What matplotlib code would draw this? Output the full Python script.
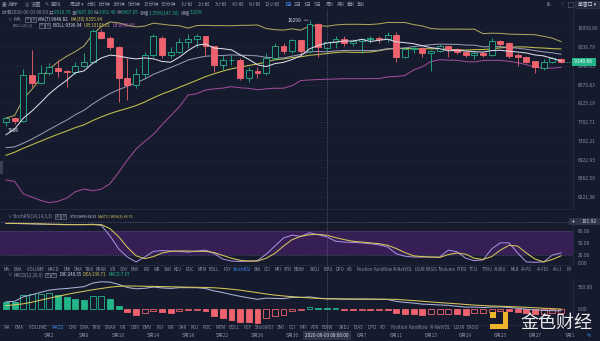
import numpy as np
import pandas as pd
import matplotlib
matplotlib.use('Agg')
import matplotlib.pyplot as plt
from matplotlib.patches import Rectangle
from matplotlib.lines import Line2D
from matplotlib.ticker import FixedLocator, FixedFormatter, NullLocator
import matplotlib.transforms as mtransforms

plt.rcParams['font.family'] = ['Noto Sans CJK SC', 'DejaVu Sans']
plt.rcParams['axes.unicode_minus'] = False

# ---------------- data ----------------
dates = pd.date_range('2020-04-27', '2020-06-30', freq='D')

opens = [7699, 7787, 7730, 8798, 8600, 8848, 8990, 8899, 8873, 9026,
         9129, 9969, 9801, 9526, 8723, 8551, 8823, 9312, 9801, 9312,
         9392, 9663, 9773, 9829, 9553, 9051, 9181, 9194, 8723, 8899,
         8848, 9233, 9580, 9419, 9718, 9419, 10199, 9519.76, 9667, 9773,
         9635, 9690, 9746, 9801, 9746, 9885, 9259, 9472, 9499, 9365,
         9419, 9553, 9472, 9392, 9312, 9365, 9312, 9690, 9635, 9312,
         9259, 9155, 8974, 9129, 9207]
highs = [7809, 7809, 8950, 9445, 9051, 9103, 9181, 8924, 9129, 9365,
         10055, 10055, 9857, 9580, 9233, 8974, 9392, 9913, 9829, 9526,
         9801, 9913, 9913, 9850, 9580, 9312, 9312, 9233, 9000, 9000,
         9365, 9635, 9635, 9773, 9740, 10299, 10228, 9687.00, 9857, 9829,
         9773, 9801, 9857, 9857, 9969, 9969, 9526, 9553, 9526, 9470,
         9610, 9580, 9500, 9420, 9392, 9400, 9801, 9718, 9663, 9365,
         9286, 9170, 9207, 9259, 9233]
lows = [7608, 7655, 7699, 8502, 8575, 8798, 8748, 8502, 8823, 9000,
        9103, 9773, 9445, 8148, 8194, 8479, 8723, 9259, 9233, 9233,
        9365, 9499, 9526, 9312, 8873, 8924, 9051, 8673, 8625, 8723,
        8820, 9200, 9339, 9365, 9339, 9365, 9270, 9391.49, 9499, 9580,
        9553, 9365, 9635, 9635, 9663, 9129, 9233, 9365, 9259, 8920,
        9392, 9259, 9340, 9280, 9207, 9280, 9286, 9580, 9233, 9026,
        9103, 8848, 8924, 9103, 9103]
closes = [7787, 7721, 8798, 8600, 8848, 9000, 8899, 8873, 9026, 9129,
          9997, 9801, 9526, 8723, 8551, 8823, 9312, 9829, 9312, 9392,
          9663, 9773, 9829, 9553, 9051, 9181, 9194, 8723, 8924, 8848,
          9233, 9580, 9419, 9718, 9419, 10199, 9526, 9667.05, 9773, 9635,
          9690, 9746, 9801, 9746, 9885, 9259, 9472, 9499, 9365, 9419,
          9553, 9472, 9392, 9312, 9365, 9312, 9690, 9608, 9286, 9259,
          9129, 9000, 9129, 9233, 9140.66]
# daily closes 2020-03-29 .. 2020-04-26 (warm-up for MA / BOLL)
history_closes = [5881, 6394, 6410, 6642, 6794, 6734, 6857, 6772, 7330, 7200,
                  7370, 7296, 6865, 6887, 6904, 6838, 6868, 6621, 7116, 7097,
                  7257, 7189, 6882, 6880, 7118, 7482, 7505, 7539, 7697]

stoch_k = [98, 98, 97, 97, 96, 96, 95, 95, 95, 95,
           96, 93, 67, 35, 15, 3, 15, 29, 31, 30,
           29, 27, 30, 32, 24, 10, 5, 4, 5, 6,
           22, 42, 62, 69, 66, 75, 70, 64.95, 54, 52,
           51, 50, 48, 45, 40, 23, 17, 15, 15, 15,
           15, 32, 28, 12, 6, 8, 35, 50, 50, 25,
           3, 2, 3, 20, 25]
stoch_d = [98, 98, 98, 97, 97, 96, 96, 95, 95, 95,
           95, 95, 85, 65, 39, 18, 11, 16, 25, 29,
           30, 30, 29, 29, 26, 19, 12, 7, 5, 5,
           12, 24, 42, 58, 66, 70, 71, 68.76, 63, 58,
           54, 52, 50, 48, 44, 36, 26, 18, 16, 15,
           14, 21, 25, 22, 12, 9, 16, 32, 44, 42,
           25, 10, 3, 9, 18]

macd_dea = [82, 102, 125, 161, 207, 252, 295, 336, 375, 409,
            443, 472, 502, 522, 529, 527, 522, 520, 515, 511,
            506, 502, 499, 495, 488, 474, 456, 434, 406, 377,
            347, 322, 302, 286, 272, 259, 247, 236.71, 235, 234,
            233, 232, 231, 229, 227, 225, 211, 197, 182, 166,
            152, 138, 125, 109, 95, 84, 75, 68, 61, 54,
            45, 34, 23, 14, 5]
macd_hist = [175, 159, 318, 340, 355, 365, 325, 272, 234, 211,
             302, 306, 227, 84, -68, -125, -91, -30, -61, -75,
             -30, -23, -20, -45, -143, -188, -243, -279, -295, -302,
             -188, -152, -120, -30, -8, 45, 11, 7.67, 11, -7,
             -8, -6, -7, -6, -8, -91, -107, -114, -129, -114,
             -107, -98, -114, -120, -91, -89, -52, -30, -39, -61,
             -84, -98, -97, -91, -75]

price_ticks = [10059.85, 9536.79, 9040.63, 8570.83, 8125.19, 7702.71,
               7302.21, 6922.93, 6562.59, 6221.36]
stoch_ticks = [80, 50, 20, 0]
macd_ticks = [500, 0]
date_labels = [('2020-05-02', '5月2'), ('2020-05-06', '5月6'), ('2020-05-10', '5月10'),
               ('2020-05-14', '5月14'), ('2020-05-18', '5月18'), ('2020-05-22', '5月22'),
               ('2020-05-26', '5月26'), ('2020-05-30', '5月30'), ('2020-06-07', '6月7'),
               ('2020-06-11', '6月11'), ('2020-06-15', '6月15'), ('2020-06-19', '6月19'),
               ('2020-06-23', '6月23'), ('2020-06-27', '6月27'), ('2020-07-01', '7月1')]
cross_day = '2020-06-03'
cross_stoch_value = 101.92
last_price = 9140.66
high_mark = 10299
low_mark = 7608

# ---------------- derived indicators ----------------
n_hist = len(history_closes)
allc = pd.Series(history_closes + closes, dtype=float)
ma7 = allc.rolling(7).mean().values[n_hist:]
ma30 = allc.rolling(30).mean().values[n_hist:]
boll_mid = allc.rolling(20).mean().values[n_hist:]
boll_std = allc.rolling(20).std(ddof=0).values[n_hist:]
boll_ub = boll_mid + 2 * boll_std
boll_lb = boll_mid - 2 * boll_std
dea = np.array(macd_dea, float)
hist = np.array(macd_hist, float)
dif = dea + hist / 2.0

# ---------------- style ----------------
W, H = 600, 341
BG = '#161a2d'
GRID = '#20243a'
AXL = '#2b2f45'
TXT = '#8c92aa'
WHITE = '#d8dae6'
UP = '#23b487'
DN = '#ee636d'
YEL = '#d6c65a'
PUR = '#b866c0'
BLUE = '#3d8ef0'
C_UB = '#aaa45a'
C_MA30 = '#c3c24c'
C_MID = '#9797b4'
C_MA7 = '#d9dae6'
C_LB = '#9c4c96'
XL = (-0.69, 65.38)

fig = plt.figure(figsize=(W / 100, H / 100), dpi=100)
fig.patch.set_facecolor(BG)
renderer = fig.canvas.get_renderer()


def fx(x):
    return x / W


def fy(y):
    return 1 - y / H


def ftext(x, y, s, color=TXT, size=3.6, ha='left', va='center', **kw):
    return fig.text(fx(x), fy(y), s, color=color, fontsize=size, ha=ha, va=va, **kw)


def seq_fit(x0, x1, y, pieces, size=3.5):
    """lay out coloured pieces left to right and scale them to span x0..x1 px"""
    ts = [ftext(0, y, s, color=c, size=size) for s, c in pieces]
    ws = [t.get_window_extent(renderer).width for t in ts]
    k = (x1 - x0) / sum(ws)
    xx = x0
    for t, w in zip(ts, ws):
        t.set_fontsize(size * k)
        t.set_x(fx(xx))
        xx += w * k


def frect(x, y, w, h, **kw):
    r = Rectangle((fx(x), fy(y + h)), w / W, h / H, transform=fig.transFigure, **kw)
    fig.add_artist(r)
    return r


def icons(x, y):
    frect(x, y - 2.3, 4.6, 4.6, facecolor='none', edgecolor=TXT, lw=0.4)
    ftext(x + 2.3, y, '⚙', size=2.8, ha='center', family=['DejaVu Sans'])
    frect(x + 6.2, y - 2.3, 4.6, 4.6, facecolor='none', edgecolor=TXT, lw=0.4)
    ftext(x + 8.5, y, '×', size=3.6, ha='center', family=['DejaVu Sans'])


def add_ax(x0, y0, x1, y1):
    a = fig.add_axes([x0 / W, 1 - y1 / H, (x1 - x0) / W, (y1 - y0) / H])
    a.set_facecolor(BG)
    for s in a.spines.values():
        s.set_visible(False)
    a.spines['right'].set_visible(True)
    a.spines['right'].set_color(AXL)
    a.spines['right'].set_linewidth(0.6)
    a.set_xlim(XL)
    a.set_xticks([])
    a.yaxis.tick_right()
    a.tick_params(axis='y', length=0, pad=3.5, labelsize=3.5, labelcolor=TXT)
    return a


x = np.arange(len(closes))
cross_i = (pd.Timestamp(cross_day) - dates[0]).days

# ---------------- main price panel ----------------
ax = add_ax(0, 9, 573, 208)
ax.set_yscale('log')
ax.set_ylim(6030, 10630)
ax.yaxis.set_major_locator(FixedLocator(price_ticks))
ax.yaxis.set_minor_locator(NullLocator())
ax.yaxis.set_major_formatter(FixedFormatter([f'{v:.2f}' for v in price_ticks]))
ax.yaxis.set_minor_formatter(FixedFormatter([]))
ax.grid(axis='y', color=GRID, lw=0.4)

ax.plot(x, boll_lb, color=C_LB, lw=0.75, zorder=2)
ax.plot(x, ma30, color=C_MA30, lw=0.75, zorder=2)
ax.plot(x, boll_mid, color=C_MID, lw=0.75, zorder=2)
ax.plot(x, boll_ub, color=C_UB, lw=0.75, zorder=2)
ax.plot(x, ma7, color=C_MA7, lw=0.75, zorder=5)

for i in x:
    o, h, l, c = opens[i], highs[i], lows[i], closes[i]
    up = c >= o
    col = UP if up else DN
    ax.vlines(i, l, h, color=col, lw=0.6, zorder=3)
    bot = min(o, c)
    hgt = max(abs(c - o), bot * 0.0018)
    ax.add_patch(Rectangle((i - 0.34, bot), 0.68, hgt, facecolor=BG if up else col,
                           edgecolor=col, lw=0.6, zorder=4))

ax.annotate(f'{high_mark}', xy=(35, high_mark), xytext=(-6, 0), textcoords='offset points',
            ha='right', va='center', color=WHITE, fontsize=3.5,
            arrowprops=dict(arrowstyle='-', color=WHITE, lw=0.4, shrinkA=0, shrinkB=1))
ax.annotate(f'{low_mark}', xy=(0, low_mark), xytext=(1, -3), textcoords='offset points',
            ha='left', va='center', color=WHITE, fontsize=3.5)

trans_price = mtransforms.blended_transform_factory(ax.transAxes, ax.transData)
ax.plot([len(closes) - 1 + 0.4, XL[1]], [last_price, last_price], color=UP, lw=0.5,
        ls=(0, (1.5, 1)), zorder=6)
ax.text(1.0, last_price, f' {last_price:.2f}  ', transform=trans_price, ha='left', va='center',
        fontsize=3.5, color='white', clip_on=False, zorder=10,
        bbox=dict(boxstyle='square,pad=0.3', facecolor=UP, edgecolor='none'))

# ---------------- StochRSI panel ----------------
axs = add_ax(0, 219, 573, 264)
axs.set_ylim(-2.2, 108.9)
axs.axhspan(20, 80, color='#361f55', lw=0, zorder=0)
axs.axhline(80, color='#5d6080', lw=0.45, ls=(0, (2, 2)), zorder=1)
axs.axhline(20, color='#5d6080', lw=0.45, ls=(0, (2, 2)), zorder=1)
axs.axhline(cross_stoch_value, color='#6a6e88', lw=0.45, ls=(0, (2, 2)), zorder=1)
axs.set_yticks(stoch_ticks, labels=[f'{v:.2f}' for v in stoch_ticks])
axs.plot(x, stoch_k, color='#a58fdc', lw=0.75, zorder=3)
axs.plot(x, stoch_d, color=YEL, lw=0.75, zorder=3)

# ---------------- MACD panel ----------------
axm = add_ax(0, 278, 573, 324)
axm.set_ylim(-334, 710)
axm.set_yticks(macd_ticks, labels=[f'{v:.2f}' for v in macd_ticks])
for i in x:
    hv = hist[i]
    col = UP if hv >= 0 else DN
    hollow = i > 0 and hv >= hist[i - 1]
    hh = hv if abs(hv) >= 22 else (22 if hv >= 0 else -22)
    axm.add_patch(Rectangle((i - 0.34, 0), 0.68, hh, facecolor=BG if hollow else col,
                            edgecolor=col, lw=0.6, zorder=3))
axm.plot(x, dif, color='#aab3d6', lw=0.75, zorder=4)
axm.plot(x, dea, color=YEL, lw=0.75, zorder=4)

# ---------------- crosshair ----------------
cx = fig.transFigure.inverted().transform(ax.transData.transform((cross_i, 9000)))[0]
fig.add_artist(Line2D([cx, cx], [fy(9), fy(331)], transform=fig.transFigure,
                      color='#6a6e88', lw=0.45, ls=(0, (2, 2)), zorder=20))

# panel separators
for yy in (209, 265, 324.5):
    fig.add_artist(Line2D([0, fx(573)], [fy(yy), fy(yy)], transform=fig.transFigure,
                          color=AXL, lw=0.5))

# ---------------- date labels ----------------
tdate = mtransforms.blended_transform_factory(axm.transData, fig.transFigure)
for d, lab in date_labels:
    i = (pd.Timestamp(d) - dates[0]).days
    fig.text(i, fy(335.5), lab, transform=tdate, fontsize=3.5, color=TXT,
             ha='center', va='center')
fig.text(cross_i, fy(335.5), '2020-06-03 08:00:00', transform=tdate, fontsize=3.4,
         color=WHITE, ha='center', va='center',
         bbox=dict(boxstyle='square,pad=0.45', facecolor='#30344a', edgecolor='none'))

# ---------------- top toolbar ----------------
ftext(2, 4.5, '▣', size=3.6, family=['DejaVu Sans'])
ftext(8, 4.5, '指标', size=3.8)
ftext(25, 4.5, '◎', size=3.6, family=['DejaVu Sans'])
ftext(31, 4.5, '设置', size=3.8)
ftext(45, 4.5, '✎', size=3.6, family=['DejaVu Sans'])
ftext(51, 4.5, '画线', size=3.8)
periods = [('周期 ▾', 77), ('分时', 92), ('1分钟', 104), ('3分钟', 119), ('5分钟', 134),
           ('15分钟', 151), ('30分钟', 169), ('1小时', 187), ('2小时', 204), ('3小时', 221),
           ('4小时', 238), ('6小时', 255), ('12小时', 272), ('1日', 288), ('2日', 298),
           ('3日', 308), ('5日', 318), ('周K', 330), ('月K', 341), ('季K', 351), ('年K', 361)]
for s, px in periods:
    ftext(px, 4.5, s, color=BLUE if s == '1日' else TXT, size=3.6, ha='center')
ftext(549, 4.2, 'Ib', size=3.6, ha='center')
ftext(561, 4.2, '⁙', size=3.8, ha='center', family=['DejaVu Sans'])
frect(567.5, 2, 5, 5, facecolor='none', edgecolor=TXT, lw=0.4, ls=(0, (1.5, 1)))
frect(575, 0.8, 24, 7.5, facecolor='#262a3e', edgecolor='#3a3e55', lw=0.4)
ftext(587, 4.5, '单窗口 ▾', color=WHITE, size=3.5, ha='center')

# ---------------- legends ----------------
seq_fit(2, 203, 13, [('时间2020-06-03 08:00 ', TXT), ('开', TXT), ('9519.76 ', UP), ('高', TXT),
                     ('9687.00 ', UP), ('低', TXT), ('9391.49 ', UP), ('收', TXT),
                     ('9667.05 ', UP), ('涨幅', TXT), ('1.55%(147.30) ', UP), ('振幅', TXT),
                     ('3.10%', UP)])
ftext(7, 19.3, '∨', size=3.2)
ftext(13, 19.3, 'MA', size=3.8)
icons(25, 19.3)
seq_fit(38, 103, 19.3, [('MA(7):9646.82  ', C_MA7), ('MA(30):9355.94', YEL)])
seq_fit(13, 33, 25.3, [('BOLL(20,2)', TXT)])
icons(39, 25.3)
seq_fit(53, 135, 25.3, [('BOLL:9399.94  ', WHITE), ('UB:10103.01  ', YEL), ('LB:8696.86', PUR)])

ftext(7, 216.5, '∨', size=3.2)
seq_fit(13, 53, 216.5, [('StochRSI(14,14,3,3)', TXT)])
icons(55, 216.5)
seq_fit(70, 133, 216.5, [('STOCHRSI:64.95  ', WHITE), ('MASTOCHRSI(3):68.76', YEL)])

ftext(7, 274.8, '∨', size=3.2)
seq_fit(13, 43, 274.8, [('MACD(12,26,9)', TXT)])
icons(45, 274.8)
seq_fit(60, 130, 274.8, [('DIF:240.55  ', WHITE), ('DEA:236.71  ', YEL), ('MACD:7.67', UP)])

# crosshair value box in StochRSI panel
frect(569, 218.3, 31, 6.8, facecolor='#30344a', edgecolor='none')
ftext(572.5, 221.7, '+', color=WHITE, size=3.8, ha='center', family=['DejaVu Sans'])
ftext(589, 221.7, f'{cross_stoch_value:.2f}', color=WHITE, size=3.5, ha='center')

# ---------------- indicator tab rows ----------------
tabs = [('MA', 7), ('EMA', 18), ('VOLUME', 35), ('MACD', 53), ('DMI', 67), ('DMA', 78),
        ('TRIX', 89), ('BRAR', 101), ('VR', 113), ('OBV', 124), ('EMV', 135), ('RSI', 147),
        ('WR', 157), ('SAR', 168), ('KDJ', 178), ('ROC', 190), ('MTM', 202), ('BOLL', 214),
        ('PSY', 227), ('StochRSI', 242), ('SMI', 257), ('CCI', 267), ('MFI', 278),
        ('ATR', 288), ('BBIW', 299), ('SKDJ', 315), ('BIAS', 328), ('DPO', 340), ('AO', 350),
        ('Position', 365), ('Fundflow', 383), ('AI-NetVOL', 403), ('LSUR', 420),
        ('BASIS', 432), ('TVolume', 447), ('FTBS', 462), ('TTSI', 473), ('TTMJ', 487),
        ('AI-BIU', 500), ('MLR', 515), ('AI-PG', 527), ('AI-FDI', 543), ('AI-LI', 557),
        ('FR', 569)]
for s, px in tabs:
    ftext(px, 269.8, s, color=BLUE if s == 'StochRSI' else TXT, size=3.1, ha='center')
for s, px in tabs:
    p2 = 7 + (px - 7) * 1.095
    if p2 > 482:
        break
    ftext(p2, 327.5, s, color=BLUE if s == 'MACD' else TXT, size=3.2, ha='center')
ftext(589, 335.5, '%', color=BLUE, size=3.4, ha='center')

# left collapse handle
frect(0, 161, 2.5, 13, facecolor='#3a3f58', edgecolor='none')

# ---------------- watermark ----------------
GOLD = '#f0b42c'
frect(490, 312, 5.5, 5.5, facecolor=GOLD, edgecolor='none', zorder=30)
frect(503, 312, 5, 17, facecolor=GOLD, edgecolor='none', zorder=30)
frect(490, 324, 18, 5, facecolor=GOLD, edgecolor='none', zorder=30)
ftext(556, 322.5, '金色财经', color='white', size=13, ha='center', zorder=30, alpha=0.92)

fig.savefig('out.png', dpi=100, facecolor=BG)
